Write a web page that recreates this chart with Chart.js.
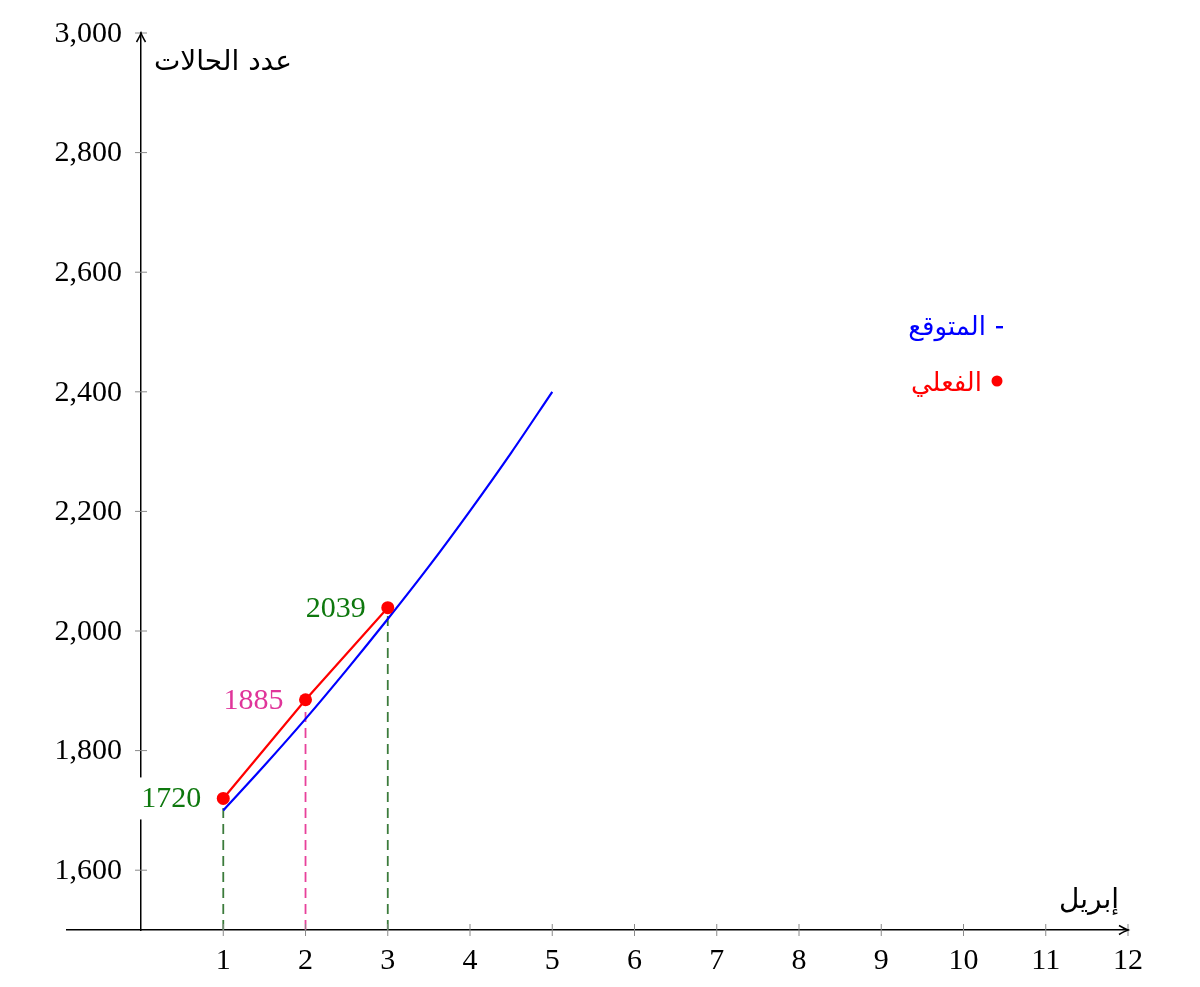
<!DOCTYPE html>
<html>
<head>
<meta charset="utf-8">
<script src="https://cdn.jsdelivr.net/npm/chart.js@4"></script>
<style>
  html, body { margin: 0; background: #fff; }
  #wrap { width: 1200px; height: 987px; }
</style>
</head>
<body>
<div id="wrap"><canvas id="c"></canvas></div>
<script>
const days = [1, 2, 3];
const actual = [1720, 1885, 2039];
const forecastX = [1, 1.5, 2, 2.5, 3, 3.5, 4, 4.5, 5];
const forecastY = [1700, 1775, 1853, 1935, 2020, 2108, 2201, 2298, 2400];
const xTicks = [1, 2, 3, 4, 5, 6, 7, 8, 9, 10, 11, 12];
const yTicks = [1600, 1800, 2000, 2200, 2400, 2600, 2800, 3000];
const labelColors = ['#0e780e', '#e0359a', '#0e780e'];
const dashColors = ['#3b7b3b', '#e8419b', '#3b7b3b'];
const yTitle = 'عدد الحالات';
const xTitle = 'إبريل';
const legendForecast = 'المتوقع';
const legendActual = 'الفعلي';

const serif = '"Liberation Serif", "DejaVu Serif", serif';
const arabic = '"DejaVu Sans", sans-serif';

const dashSets = days.map((d, i) => ({
  data: [{x: d, y: 1500}, {x: d, y: actual[i]}],
  borderColor: dashColors[i],
  borderWidth: 1.8,
  borderDash: [10, 6],
  pointRadius: 0,
  showLine: true,
  order: 3
}));

const decor = {
  id: 'decor',
  beforeDatasetsDraw(chart) {
    // value labels with white backing (cut the y axis like the original)
    const ctx = chart.ctx;
    const xs = chart.scales.x, ys = chart.scales.y;
    ctx.save();
    ctx.font = '30px ' + serif;
    ctx.textAlign = 'right';
    ctx.textBaseline = 'middle';
    days.forEach((d, i) => {
      const px = xs.getPixelForValue(d) - 22;
      const py = ys.getPixelForValue(actual[i]);
      const txt = String(actual[i]);
      const w = ctx.measureText(txt).width;
      ctx.fillStyle = '#fff';
      ctx.fillRect(px - w - 4, py - 21, w + 8, 42);
      ctx.fillStyle = labelColors[i];
      ctx.fillText(txt, px, py + 1);
    });
    ctx.restore();
  },
  afterDraw(chart) {
    const ctx = chart.ctx;
    const xs = chart.scales.x, ys = chart.scales.y;
    const x0 = xs.getPixelForValue(0);
    const yb = ys.getPixelForValue(1500);
    const xr = xs.getPixelForValue(12);
    const yt = ys.getPixelForValue(3000);
    ctx.save();

    // tick marks crossing the axes, y tick labels
    ctx.strokeStyle = '#8a8a8a';
    ctx.lineWidth = 1;
    ctx.fillStyle = '#000';
    ctx.font = '30px ' + serif;
    ctx.textAlign = 'right';
    ctx.textBaseline = 'middle';
    yTicks.forEach(v => {
      const p = ys.getPixelForValue(v);
      ctx.beginPath(); ctx.moveTo(x0 - 6, p); ctx.lineTo(x0 + 6, p); ctx.stroke();
      ctx.fillText(v.toLocaleString('en-US'), x0 - 19, p + 1);
    });
    xTicks.forEach(v => {
      const p = xs.getPixelForValue(v);
      ctx.beginPath(); ctx.moveTo(p, yb - 6); ctx.lineTo(p, yb + 6); ctx.stroke();
    });

    // arrow heads
    ctx.strokeStyle = '#000';
    ctx.lineWidth = 1.5;
    ctx.beginPath();
    ctx.moveTo(x0 - 4.5, yt + 9); ctx.quadraticCurveTo(x0 - 1, yt + 3, x0, yt);
    ctx.quadraticCurveTo(x0 + 1, yt + 3, x0 + 4.5, yt + 9);
    ctx.stroke();
    ctx.beginPath();
    ctx.moveTo(xr - 9, yb - 4.5); ctx.quadraticCurveTo(xr - 3, yb - 1, xr, yb);
    ctx.quadraticCurveTo(xr - 3, yb + 1, xr - 9, yb + 4.5);
    ctx.stroke();

    // axis titles
    ctx.fillStyle = '#000';
    ctx.font = '28px ' + arabic;
    ctx.textAlign = 'center';
    ctx.fillText(yTitle, 223, 63);
    ctx.fillText(xTitle, 1089, 901);

    // legend
    ctx.font = '26px ' + arabic;
    ctx.textAlign = 'right';
    ctx.fillStyle = '#0000ff';
    ctx.fillText(legendForecast, 986, 328);
    ctx.fillRect(996, 326, 7, 2.4);
    ctx.fillStyle = '#ff0000';
    ctx.fillText(legendActual, 982, 384);
    ctx.beginPath(); ctx.arc(997, 381, 5.5, 0, Math.PI * 2); ctx.fill();
    ctx.restore();
  }
};

new Chart(document.getElementById('c'), {
  type: 'scatter',
  data: {
    datasets: [
      ...dashSets,
      {
        data: forecastX.map((x, i) => ({x, y: forecastY[i]})),
        borderColor: '#0000ff',
        borderWidth: 2.2,
        pointRadius: 0,
        showLine: true,
        cubicInterpolationMode: 'monotone',
        order: 2
      },
      {
        data: days.map((d, i) => ({x: d, y: actual[i]})),
        borderColor: '#ff0000',
        backgroundColor: '#ff0000',
        borderWidth: 2.2,
        pointRadius: 6.5,
        pointHoverRadius: 6.5,
        pointBackgroundColor: '#ff0000',
        pointBorderWidth: 0,
        showLine: true,
        order: 1
      }
    ]
  },
  options: {
    responsive: true,
    maintainAspectRatio: false,
    animation: false,
    events: [],
    layout: { padding: { left: 67, right: 72, top: 33, bottom: 57 } },
    plugins: { legend: { display: false }, tooltip: { enabled: false } },
    scales: {
      x: {
        type: 'linear',
        min: -0.9,
        max: 12,
        position: { y: 1500 },
        afterBuildTicks: s => { s.ticks = xTicks.map(v => ({value: v})); },
        grid: { display: false, drawTicks: false },
        border: { display: true, color: '#000', width: 1.5 },
        ticks: { color: '#000', padding: 13, maxRotation: 0, autoSkip: false, font: { family: serif, size: 30 } }
      },
      y: {
        type: 'linear',
        min: 1500,
        max: 3000,
        position: { x: 0 },
        afterBuildTicks: s => { s.ticks = yTicks.map(v => ({value: v})); },
        grid: { display: false, drawTicks: false },
        border: { display: true, color: '#000', width: 1.5 },
        ticks: { display: false }
      }
    }
  },
  plugins: [decor]
});
</script>
</body>
</html>
